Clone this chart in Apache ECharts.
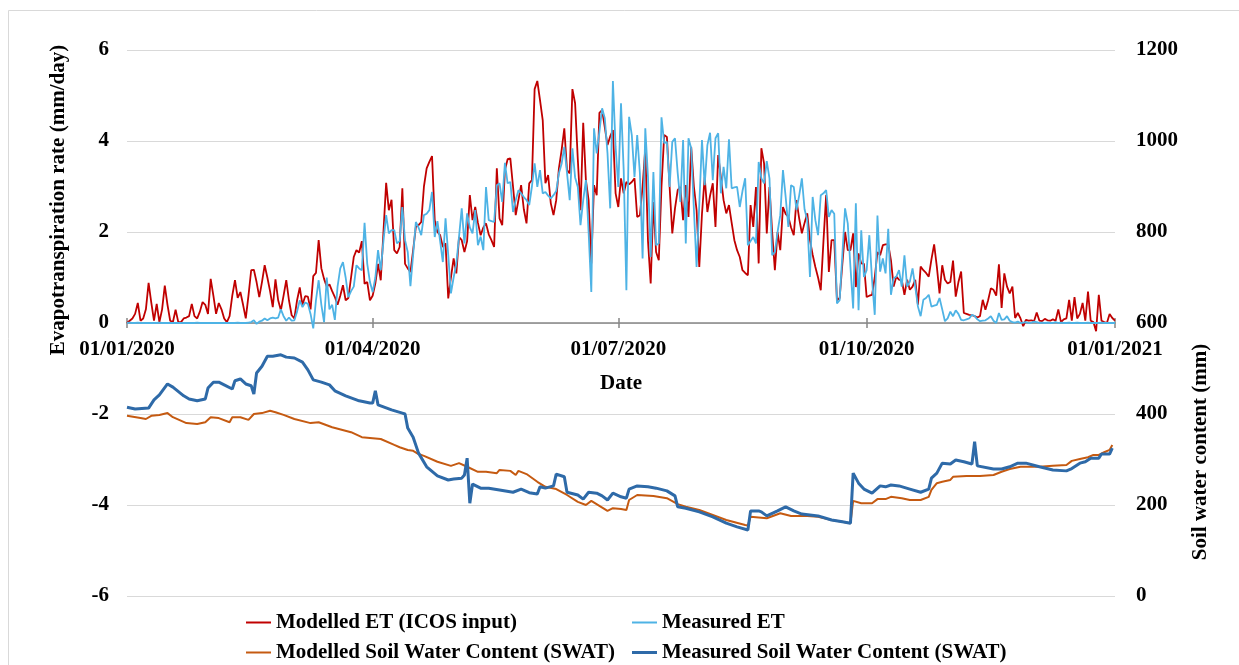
<!DOCTYPE html>
<html>
<head>
<meta charset="utf-8">
<script src="https://cdn.jsdelivr.net/npm/echarts@6/dist/echarts.min.js"></script>
<style>
  html, body { margin: 0; padding: 0; background: #ffffff; }
  #chart { width: 1239px; height: 665px; }
</style>
</head>
<body>
<div id="chart"></div>
<script>
// Daily categories from 1 Jan 2020 to 1 Jan 2021
const dates = [];
for (let t = Date.UTC(2020, 0, 1); t <= Date.UTC(2021, 0, 1); t += 86400000) {
  dates.push(new Date(t).toISOString().slice(0, 10));
}
// Quarter starts that carry a tick and a label
const quarterStarts = ['01-01', '04-01', '07-01', '10-01'];

// Evapotranspiration, mm/day, one value per day
const modelledET = [
  0.0, 0.05, 0.1, 0.2, 0.44, 0.05, 0.1, 0.3, 0.88, 0.45,
  0.05, 0.42, 0.02, 0.3, 0.82, 0.4, 0.05, 0.02, 0.29, 0.02,
  0.02, 0.1, 0.12, 0.15, 0.42, 0.15, 0.1, 0.25, 0.46, 0.4,
  0.2, 0.97, 0.6, 0.2, 0.44, 0.3, 0.1, 0.02, 0.15, 0.6,
  0.94, 0.55, 0.68, 0.4, 0.1, 0.6, 1.16, 1.17, 0.9, 0.57,
  0.9, 1.27, 1.0, 0.7, 0.35, 0.96, 0.5, 0.28, 0.6, 0.94,
  0.5, 0.17, 0.1, 0.5, 0.78, 0.4, 0.59, 0.58, 0.3, 1.03,
  1.1, 1.82, 1.2, 0.97, 0.8, 0.85, 0.7, 0.57, 0.4, 0.6,
  0.83, 0.5, 0.55, 1.0, 1.45, 1.6, 1.55, 1.8, 0.86, 0.9,
  0.5, 0.6, 0.87, 1.3, 0.94, 2.0, 3.08, 2.48, 2.71, 1.6,
  1.53, 1.67, 2.96, 1.3, 1.2, 1.12, 1.6, 2.11, 2.15, 2.22,
  3.0, 3.4, 3.54, 3.67, 2.26, 2.0, 1.93, 1.67, 1.75, 0.54,
  1.0, 1.42, 1.09, 1.89, 1.82, 1.56, 1.8, 2.81, 2.26, 2.55,
  2.2, 1.93, 2.1, 2.19, 1.95, 1.82, 1.67, 3.4, 2.3, 2.15,
  3.36, 3.6, 3.62, 3.0, 2.37, 2.7, 3.03, 2.5, 2.19, 3.07,
  3.14, 5.14, 5.32, 4.9, 4.46, 3.07, 3.25, 2.63, 2.37, 2.7,
  3.4, 3.8, 4.28, 3.36, 3.29, 5.14, 4.83, 3.6, 2.48, 4.4,
  3.14, 2.7, 1.31, 3.03, 2.81, 4.62, 4.68, 4.3, 3.91, 4.1,
  4.24, 2.85, 2.55, 3.18, 2.85, 3.1, 3.05, 3.1, 3.18, 2.33,
  2.37, 3.0, 3.84, 1.8, 0.87, 2.66, 1.56, 1.38, 3.0, 4.13,
  4.09, 3.0, 1.97, 2.52, 2.92, 2.99, 2.26, 3.03, 2.33, 3.87,
  3.0, 2.48, 1.23, 2.4, 3.21, 2.44, 2.8, 3.07, 2.11, 3.69,
  3.2, 2.7, 2.41, 2.59, 2.2, 1.82, 1.6, 1.45, 1.16, 1.1,
  1.05, 2.59, 2.11, 2.99, 1.31, 3.84, 3.51, 1.97, 2.99, 2.0,
  1.16, 2.0, 1.6, 2.55, 2.4, 2.33, 2.1, 1.93, 2.7, 2.3,
  1.97, 2.2, 2.41, 1.82, 1.5, 1.23, 1.0, 0.72, 1.8, 2.81,
  1.12, 1.82, 1.82, 0.5, 0.55, 1.3, 2.0, 1.6, 1.6, 1.97,
  0.79, 1.53, 1.31, 1.3, 0.57, 0.6, 0.62, 1.0, 1.56, 1.49,
  1.71, 1.73, 1.73, 1.38, 0.8, 1.02, 0.95, 0.95, 0.62, 0.95,
  0.73, 0.8, 0.95, 0.4, 1.24, 1.16, 1.1, 1.02, 1.4, 1.73,
  1.24, 0.65, 1.27, 0.95, 0.87, 0.9, 1.37, 0.58, 0.9, 1.13,
  0.22, 0.2, 0.18, 0.17, 0.15, 0.12, 0.15, 0.51, 0.29, 0.5,
  0.76, 0.73, 0.6, 1.29, 0.33, 1.09, 0.8, 0.65, 0.8, 0.11,
  0.22, 0.1, -0.07, 0.07, 0.05, 0.06, 0.04, 0.23, 0.05, 0.04,
  0.09, 0.06, 0.05, 0.08, 0.05, 0.3, 0.02, 0.08, 0.1, 0.51,
  0.05, 0.57, 0.1, 0.2, 0.44, 0.05, 0.69, 0.05, 0.02, -0.18,
  0.62, 0.05, 0.02, 0.0, 0.2, 0.11, 0.05
];

const measuredET = [
  0, 0.01, 0, 0, 0.01, 0, 0, 0, 0, 0,
  0, 0, 0.01, 0, 0, 0, 0, 0, 0, 0,
  0, 0, 0, 0, 0, 0, 0.01, 0, 0, 0,
  0, 0, 0, 0, 0, 0, 0, 0, 0, 0,
  0, 0.01, 0, 0, 0, 0.01, 0.02, 0.06, -0.02, 0.03,
  0.05, 0.1, 0.06, 0.1, 0.12, 0.1, 0.12, 0.3, 0.15, 0.05,
  0.12, 0.05, 0.06, 0.25, 0.5, 0.35, 0.45, 0.42, 0.2, -0.12,
  0.5, 0.94, 0.4, 0.02, 1.0, 0.3, 0.4, 0.07, 0.8, 1.2,
  1.34, 1.0, 0.57, 0.7, 0.8, 1.27, 1.2, 1.16, 2.2, 1.3,
  0.9, 0.68, 1.0, 1.6, 1.16, 1.8, 2.37, 1.97, 2.04, 2.04,
  1.75, 1.8, 2.55, 1.82, 1.56, 0.81, 1.5, 2.22, 2.1, 1.93,
  2.37, 2.4, 2.48, 2.88, 1.89, 2.24, 1.8, 1.34, 2.3, 1.5,
  0.65, 1.0, 1.31, 1.9, 2.52, 1.75, 2.41, 2.1, 1.97, 2.48,
  1.71, 1.9, 1.6, 2.99, 2.26, 2.24, 2.22, 3.03, 3.07, 2.66,
  3.52, 3.07, 3.1, 2.44, 2.7, 2.92, 2.85, 2.77, 2.7, 2.59,
  3.0, 3.51, 2.99, 3.36, 2.85, 2.88, 2.8, 2.74, 2.81, 2.9,
  3.29, 3.5, 3.87, 3.3, 2.7, 3.84, 3.2, 2.99, 2.15, 2.7,
  3.14, 2.0, 0.68, 4.28, 3.73, 4.2, 4.72, 4.5, 3.73, 2.52,
  5.32, 3.87, 2.99, 4.83, 3.36, 0.72, 4.53, 4.13, 3.21, 4.13,
  3.29, 1.42, 4.28, 3.21, 1.45, 3.32, 1.71, 1.75, 4.52, 3.95,
  3.98, 2.99, 3.98, 4.06, 3.3, 2.66, 4.02, 1.75, 4.06, 3.84,
  2.5, 1.23, 2.6, 4.02, 3.03, 3.91, 4.18, 3.14, 4.06, 4.17,
  2.85, 3.43, 2.96, 4.04, 2.96, 2.98, 2.99, 2.55, 2.9, 3.18,
  1.71, 1.8, 1.89, 1.75, 3.54, 3.18, 3.07, 3.56, 3.18, 1.49,
  1.56, 2.0, 2.37, 3.36, 2.77, 2.11, 3.03, 2.99, 2.48, 2.8,
  3.18, 2.5, 2.26, 1.01, 2.77, 2.26, 1.93, 2.81, 2.85, 2.92,
  2.33, 2.48, 2.4, 0.43, 0.5, 1.5, 2.52, 2.19, 1.23, 0.32,
  2.63, 0.28, 2.04, 1.01, 1.16, 1.93, 0.95, 0.18, 2.36, 1.13,
  1.42, 1.09, 2.07, 0.62, 0.98, 1.02, 1.16, 0.8, 1.49, 0.8,
  0.91, 1.2, 0.8, 0.36, 0.15, 0.51, 0.55, 0.62, 0.36, 0.38,
  0.4, 0.55, 0.3, 0.04, 0.1, 0.25, 0.15, 0.28, 0.2, 0.07,
  0.06, 0.08, 0.1, 0.18, 0.15, 0.08, 0.04, 0.05, 0.06, 0.1,
  0.15, 0.05, 0.0, 0.22, 0.07, 0.08, 0.15, 0.05, 0.02, 0.01,
  0.03, 0.0, 0.01, 0.02, 0.0, 0.01, 0.03, 0.02, 0.0, 0.01,
  0.0, 0.01, 0.0, 0.0, 0.02, 0.0, 0.01, 0.0, 0.0, 0.01,
  0.0, 0.0, 0.01, 0.0, 0.0, 0.0, 0.01, 0.0, 0.0, 0.0,
  0.0, 0.01, 0.0, 0.0, 0.0, 0.0, 0.0
];

// Soil water content, mm: [days since 1 Jan 2020, value]
const modelledSWC = [
  [0, 396], [5, 391], [7, 389], [9, 396], [12, 398], [15, 402], [17, 393], [22, 380],
  [26, 378], [29, 382], [31, 393], [34, 391], [38, 382], [39, 393], [42, 393], [45, 387],
  [47, 400], [50, 402], [53, 407], [55, 404], [58, 398], [62, 389], [68, 380], [71, 382],
  [76, 371], [83, 360], [87, 349], [94, 345], [99, 332], [101, 327], [104, 321], [106, 319],
  [108, 312], [110, 308], [115, 295], [120, 286], [123, 292], [126, 284], [130, 273], [133, 273],
  [137, 270], [138, 277], [142, 275], [144, 266], [145, 275], [148, 268], [152, 251], [155, 240],
  [159, 235], [163, 222], [167, 207], [170, 200], [172, 209], [175, 198], [178, 187], [180, 193],
  [183, 191], [185, 189], [186, 211], [189, 222], [192, 221], [195, 220], [200, 215], [204, 202],
  [207, 196], [212, 189], [217, 178], [222, 167], [229, 156], [230, 155], [231, 174], [237, 171],
  [242, 182], [246, 176], [252, 176], [256, 174], [261, 167], [265, 163], [268, 160], [269, 209],
  [272, 204], [276, 204], [278, 213], [281, 213], [283, 218], [287, 215], [290, 211], [294, 211],
  [297, 218], [298, 233], [300, 248], [302, 251], [305, 255], [306, 262], [311, 264], [316, 264],
  [321, 266], [324, 273], [327, 279], [331, 284], [338, 284], [343, 286], [348, 288], [350, 297],
  [353, 301], [356, 305], [358, 310], [360, 310], [362, 316], [364, 321], [365, 332]
];

const measuredSWC = [
  [0, 415], [3, 411], [8, 413], [10, 431], [12, 442], [15, 466], [17, 459], [21, 440],
  [23, 433], [26, 429], [29, 433], [30, 457], [32, 470], [34, 470], [36, 464], [39, 455],
  [40, 473], [42, 477], [44, 466], [46, 462], [47, 444], [48, 490], [50, 505], [52, 527],
  [54, 527], [57, 530], [59, 525], [62, 523], [65, 514], [67, 497], [69, 475], [72, 470],
  [75, 464], [77, 451], [81, 440], [86, 429], [90, 424], [91, 424], [92, 451], [93, 420],
  [98, 409], [102, 402], [103, 400], [104, 369], [106, 349], [108, 314], [111, 284], [115, 264],
  [119, 255], [121, 257], [124, 259], [125, 266], [126, 303], [127, 204], [128, 246], [131, 237],
  [134, 237], [138, 233], [143, 228], [146, 235], [149, 227], [152, 224], [153, 240], [155, 237],
  [158, 242], [159, 268], [162, 262], [163, 228], [167, 222], [169, 213], [171, 228], [174, 226],
  [176, 220], [178, 211], [180, 226], [183, 218], [185, 215], [186, 235], [189, 242], [193, 240],
  [196, 237], [200, 231], [203, 220], [204, 196], [207, 193], [212, 185], [217, 174], [222, 160],
  [226, 152], [230, 145], [231, 187], [234, 187], [235, 185], [237, 176], [241, 187], [244, 196],
  [247, 187], [250, 180], [256, 176], [261, 167], [265, 163], [268, 160], [269, 270], [271, 248],
  [273, 235], [276, 226], [279, 242], [281, 240], [283, 244], [286, 242], [290, 235], [294, 228],
  [297, 235], [298, 259], [300, 270], [302, 292], [305, 290], [307, 299], [310, 295], [313, 290],
  [314, 339], [315, 286], [321, 279], [324, 279], [327, 284], [330, 292], [333, 292], [338, 284],
  [343, 277], [348, 275], [350, 280], [353, 292], [355, 295], [357, 303], [360, 303], [361, 312],
  [364, 312], [365, 325]
];

const COLORS = {
  modelledET: '#C00000',
  measuredET: '#4EB3E5',
  modelledSWC: '#C55A11',
  measuredSWC: '#2E6AA8'
};

const FONT = '"Liberation Serif", "Times New Roman", serif';
const textBold = { fontFamily: FONT, fontWeight: 'bold', fontSize: 21, color: '#000000' };

const GRID = { left: 127, right: 124, top: 50, bottom: 69 };
const GRID_HEIGHT = 665 - GRID.top - GRID.bottom;
// the left axis runs -6..6, so its zero sits half way down the plot
const ZERO_SHIFT = -GRID_HEIGHT / 2;

const isQuarterStart = (idx, value) => quarterStarts.indexOf(value.slice(5)) !== -1;
const toDMY = (value) => {
  const [y, m, d] = value.split('-');
  return d + '/' + m + '/' + y;
};

// One single-entry legend per swatch so each line icon gets its own thickness
const legendEntry = (name, left, top, thickness) => ({
  data: [name],
  left: left, top: top,
  icon: 'rect',
  itemWidth: 25, itemHeight: thickness,
  textStyle: textBold
});

const chart = echarts.init(document.getElementById('chart'), null, { renderer: 'canvas' });

chart.setOption({
  animation: false,
  backgroundColor: '#ffffff',
  grid: { left: GRID.left, right: GRID.right, top: GRID.top, bottom: GRID.bottom, containLabel: false },
  graphic: [
    {
      type: 'rect', silent: true, z: -10,
      shape: { x: 8.5, y: 10.5, width: 1240, height: 670 },
      style: { fill: 'none', stroke: '#d9d9d9', lineWidth: 1 }
    },
    {
      type: 'text', x: 59, y: 200, rotation: Math.PI / 2,
      style: {
        text: 'Evapotranspiration rate (mm/day)',
        font: 'bold 21px ' + FONT, fill: '#000000',
        textAlign: 'center', textVerticalAlign: 'middle'
      }
    },
    {
      type: 'text', x: 1201, y: 452, rotation: Math.PI / 2,
      style: {
        text: 'Soil water content (mm)',
        font: 'bold 21px ' + FONT, fill: '#000000',
        textAlign: 'center', textVerticalAlign: 'middle'
      }
    }
  ],
  legend: [
    legendEntry('Modelled ET (ICOS input)', 241, 607, 2),
    legendEntry('Modelled Soil Water Content (SWAT)', 241, 637, 2),
    legendEntry('Measured ET', 627, 607, 2),
    legendEntry('Measured Soil Water Content (SWAT)', 627, 637, 3)
  ],
  xAxis: [
    {
      // date axis drawn along the zero line, ticks and labels below it
      type: 'category',
      data: dates,
      boundaryGap: false,
      position: 'bottom',
      offset: ZERO_SHIFT,
      axisLine: { onZero: false, lineStyle: { color: '#868686', width: 1.5 } },
      axisTick: { interval: isQuarterStart, length: 5, lineStyle: { color: '#868686', width: 1.5 } },
      axisLabel: { interval: isQuarterStart, formatter: toDMY, margin: 16, ...textBold },
      splitLine: { show: false },
      name: 'Date',
      nameLocation: 'middle',
      nameGap: 50,
      nameTextStyle: textBold
    },
    {
      // upper half of the crossing ticks on the zero line
      type: 'category',
      data: dates,
      boundaryGap: false,
      position: 'top',
      offset: ZERO_SHIFT,
      axisLine: { show: false, onZero: false },
      axisTick: { interval: isQuarterStart, length: 5, lineStyle: { color: '#868686', width: 1.5 } },
      axisLabel: { show: false },
      splitLine: { show: false }
    }
  ],
  yAxis: [
    {
      type: 'value', position: 'left',
      min: -6, max: 6, interval: 2,
      axisLine: { show: false }, axisTick: { show: false },
      axisLabel: { margin: 18, ...textBold },
      splitLine: { show: true, lineStyle: { color: '#d9d9d9', width: 1 } }
    },
    {
      type: 'value', position: 'right',
      min: 0, max: 1200, interval: 200,
      axisLine: { show: false }, axisTick: { show: false },
      axisLabel: { margin: 21, formatter: (v) => String(v), ...textBold },
      splitLine: { show: false }
    }
  ],
  series: [
    {
      name: 'Modelled ET (ICOS input)', type: 'line',
      xAxisIndex: 0, yAxisIndex: 0,
      data: modelledET, symbol: 'none',
      lineStyle: { color: COLORS.modelledET, width: 1.8 },
      itemStyle: { color: COLORS.modelledET }
    },
    {
      name: 'Measured ET', type: 'line',
      xAxisIndex: 0, yAxisIndex: 0,
      data: measuredET, symbol: 'none',
      lineStyle: { color: COLORS.measuredET, width: 1.8 },
      itemStyle: { color: COLORS.measuredET }
    },
    {
      name: 'Modelled Soil Water Content (SWAT)', type: 'line',
      xAxisIndex: 0, yAxisIndex: 1,
      data: modelledSWC, symbol: 'none',
      lineStyle: { color: COLORS.modelledSWC, width: 2 },
      itemStyle: { color: COLORS.modelledSWC }
    },
    {
      name: 'Measured Soil Water Content (SWAT)', type: 'line',
      xAxisIndex: 0, yAxisIndex: 1,
      data: measuredSWC, symbol: 'none',
      lineStyle: { color: COLORS.measuredSWC, width: 3 },
      itemStyle: { color: COLORS.measuredSWC }
    }
  ]
});
</script>
</body>
</html>
